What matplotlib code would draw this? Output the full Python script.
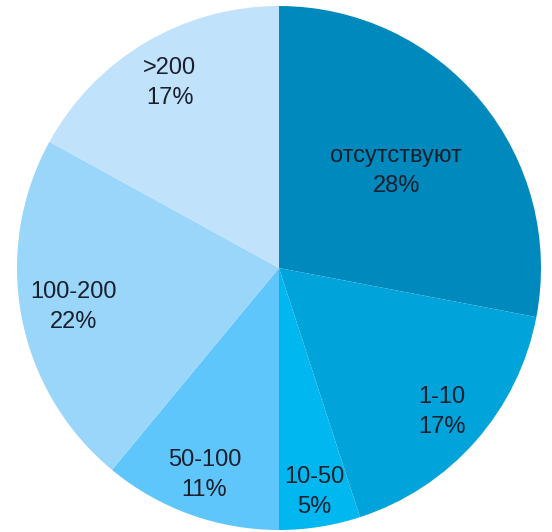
import numpy as np
import matplotlib.pyplot as plt

# данные диаграммы
labels = ['отсутствуют', '1-10', '10-50', '50-100', '100-200', '>200']
values = [28, 17, 5, 11, 22, 17]
colors = ['#0089bd', '#00a3da', '#00b7f0', '#5fc6fc', '#9ad5fa', '#c0e2fa']
label_r = [0.58, 0.83, 0.865, 0.84, 0.80, 0.82]

plt.rcParams['font.family'] = ['Liberation Sans', 'DejaVu Sans']

fig = plt.figure(figsize=(5.52, 5.32), dpi=100)
cx, cy, r = 279, 532 - 268, 262
ax = fig.add_axes([(cx - r) / 552, (cy - r) / 532, 2 * r / 552, 2 * r / 532])

wedges, _ = ax.pie(values, colors=colors, startangle=90, counterclock=False,
                   radius=1, wedgeprops=dict(linewidth=0))

for w, lab, v, d in zip(wedges, labels, values, label_r):
    ang = np.deg2rad((w.theta1 + w.theta2) / 2)
    ax.text(d * np.cos(ang), d * np.sin(ang), f'{lab}\n{v}%',
            ha='center', va='center', fontsize=17, color='#1a1f2c',
            linespacing=1.45)

ax.set_xlim(-1, 1)
ax.set_ylim(-1, 1)
ax.set_aspect('equal')
ax.axis('off')

fig.savefig('out.png', dpi=100)
